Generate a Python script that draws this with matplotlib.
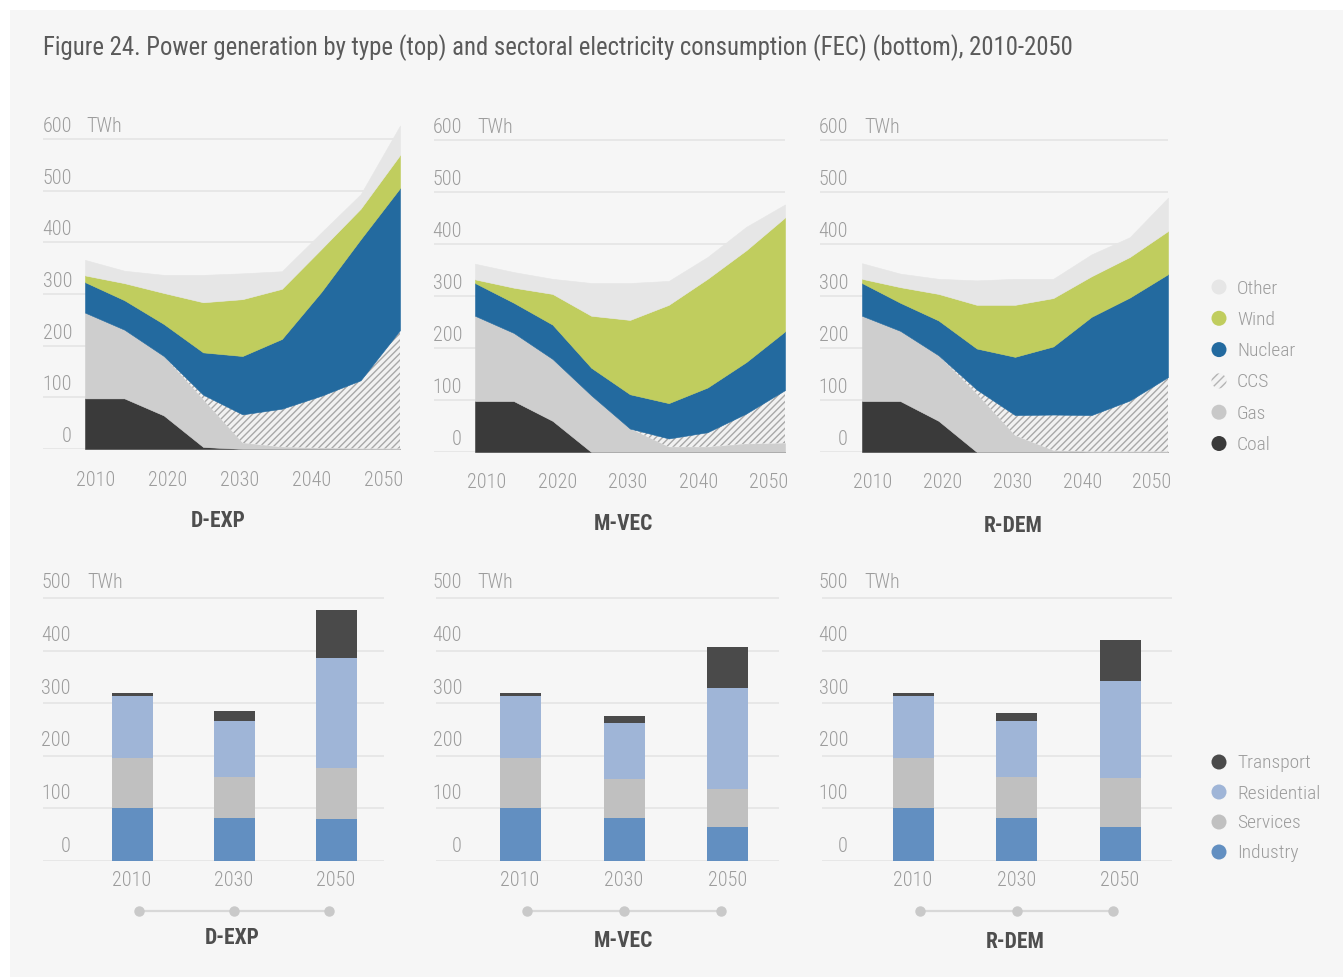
import numpy as np
import matplotlib
matplotlib.use('Agg')
import matplotlib.pyplot as plt
from matplotlib import font_manager as fm
from matplotlib.patches import Rectangle, Circle
import matplotlib.transforms as mtrans

# ---------------- data ----------------
years = [2010, 2015, 2020, 2025, 2030, 2035, 2040, 2045, 2050]
year_labels = ['2010', '2020', '2030', '2040', '2050']
gen_types = ['Coal', 'Gas', 'CCS', 'Nuclear', 'Wind', 'Other']
scenarios = ['D-EXP', 'M-VEC', 'R-DEM']

dexp_coal = [98, 98, 65, 4, 0, 0, 0, 0, 0]
dexp_gas = [166, 133, 115, 92, 12, 4, 2, 1, 1]
dexp_ccs = [0, 0, 0, 9, 55, 74, 101, 132, 229]
dexp_nuclear = [59, 57, 62, 82, 113, 135, 201, 273, 275]
dexp_wind = [13, 33, 60, 97, 110, 97, 83, 59, 64]
dexp_other = [30, 24, 35, 53, 50, 34, 32, 28, 57]

mvec_coal = [98, 98, 60, 0, 0, 0, 0, 0, 0]
mvec_gas = [164, 131, 119, 109, 45, 10, 10, 16, 17]
mvec_ccs = [0, 0, 0, 0, 0, 16, 28, 58, 102]
mvec_nuclear = [63, 58, 66, 53, 66, 68, 86, 99, 113]
mvec_wind = [7, 29, 59, 100, 143, 189, 209, 215, 219]
mvec_other = [30, 30, 29, 63, 71, 46, 42, 45, 25]

rdem_coal = [98, 98, 60, 0, 0, 0, 0, 0, 0]
rdem_gas = [164, 135, 126, 112, 32, 3, 1, 1, 1]
rdem_ccs = [0, 0, 0, 8, 39, 69, 70, 98, 143]
rdem_nuclear = [63, 54, 67, 79, 112, 131, 189, 198, 198]
rdem_wind = [8, 30, 51, 84, 100, 93, 78, 78, 83]
rdem_other = [30, 26, 29, 47, 50, 37, 42, 38, 64]

bar_years = ['2010', '2030', '2050']
sectors = ['Industry', 'Services', 'Residential', 'Transport']

dexp_industry = [101, 82, 80]
dexp_services = [95, 78, 96]
dexp_residential = [118, 106, 210]
dexp_transport = [5, 20, 91]

mvec_industry = [101, 82, 65]
mvec_services = [95, 74, 71]
mvec_residential = [118, 106, 193]
mvec_transport = [5, 14, 78]

rdem_industry = [101, 82, 65]
rdem_services = [95, 77, 92]
rdem_residential = [118, 107, 186]
rdem_transport = [5, 15, 78]

gen_ticks = [0, 100, 200, 300, 400, 500, 600]
fec_ticks = [0, 100, 200, 300, 400, 500]

# ---------------- style ----------------
gen_colors = {'Coal': '#3a3a3a', 'Gas': '#cecece', 'CCS': '#f1f1f1',
              'Nuclear': '#236a9f', 'Wind': '#c0cd5e', 'Other': '#e6e6e6'}
hatch_color = '#a8a8a8'
sec_colors = {'Industry': '#628fc1', 'Services': '#c0c0c0',
              'Residential': '#9fb5d7', 'Transport': '#4a4a4a'}
TICK_C = '#9c9c9c'
GRID_C = '#e5e5e5'
NAME_C = '#4e4e4e'
TITLE_C = '#5a5a5a'

names = {f.name for f in fm.fontManager.ttflist}
FONT = 'DejaVu Sans'
for cand in ['Roboto Condensed', 'Liberation Sans Narrow', 'DejaVu Sans']:
    if cand in names:
        FONT = cand
        break
plt.rcParams['font.family'] = [FONT, 'DejaVu Sans']
plt.rcParams['hatch.color'] = hatch_color
plt.rcParams['hatch.linewidth'] = 1.0

TICK_FS = 14.5
TICK_W = 'light'
LEG_FS = 14
NAME_FS = 15.5

W, H = 1343, 977
fig = plt.figure(figsize=(W / 100, H / 100), dpi=100, facecolor='white')

bg = fig.add_axes([0, 0, 1, 1], zorder=-10)
bg.set_xlim(0, W)
bg.set_ylim(H, 0)
bg.axis('off')
bg.add_patch(Rectangle((10, 10), W, H, color='#f6f6f6', lw=0))


def px_axes(x0, x1, ybot, ytop, z=1):
    ax = fig.add_axes([x0 / W, 1 - ybot / H, (x1 - x0) / W, (ybot - ytop) / H], zorder=z)
    ax.set_facecolor('none')
    for s in ax.spines.values():
        s.set_visible(False)
    ax.tick_params(left=False, bottom=False, labelleft=False, labelbottom=False)
    return ax


title = fig.text(43 / W, 1 - 55 / H,
                 'Figure 24. Power generation by type (top) and sectoral electricity consumption (FEC) (bottom), 2010-2050',
                 ha='left', va='baseline', fontsize=17, color=TITLE_C)
r = fig.canvas.get_renderer()
tw = title.get_window_extent(r).width
title.set_fontsize(17 * 1030 / tw)

# ---------------- top panels ----------------
top_data = [
    (dexp_coal, dexp_gas, dexp_ccs, dexp_nuclear, dexp_wind, dexp_other),
    (mvec_coal, mvec_gas, mvec_ccs, mvec_nuclear, mvec_wind, mvec_other),
    (rdem_coal, rdem_gas, rdem_ccs, rdem_nuclear, rdem_wind, rdem_other),
]
top_specs = [
    dict(gx0=43, gx1=400, dx0=85, dx1=400, y0=449, y600=139, ylab_r=72, twh_l=86,
         xlab_px=[96, 168, 240, 312, 384], xlab_dy=31, name_xy=(218, 521)),
    dict(gx0=434, gx1=785, dx0=475, dx1=785, y0=452, y600=140, ylab_r=462, twh_l=477,
         xlab_px=[487, 558, 628, 699, 769], xlab_dy=30, name_xy=(623, 524)),
    dict(gx0=820, gx1=1168, dx0=862, dx1=1168, y0=452, y600=140, ylab_r=848, twh_l=864,
         xlab_px=[873, 943, 1013, 1083, 1152], xlab_dy=30, name_xy=(1013, 526)),
]
YMAX_TOP = 640
for name, data, sp in zip(scenarios, top_data, top_specs):
    ppv = (sp['y0'] - sp['y600']) / 600.0
    ytop = sp['y0'] - YMAX_TOP * ppv
    ax = px_axes(sp['gx0'], sp['gx1'], sp['y0'], ytop)
    ppy = (sp['dx1'] - sp['dx0']) / (years[-1] - years[0])
    ax.set_xlim(years[0] - (sp['dx0'] - sp['gx0']) / ppy, years[-1] + (sp['gx1'] - sp['dx1']) / ppy)
    ax.set_ylim(0, YMAX_TOP)
    for v in gen_ticks:
        ax.axhline(v, color=GRID_C, lw=1.2, zorder=0)
    polys = ax.stackplot(years, *data, colors=[gen_colors[g] for g in gen_types], zorder=2)
    for g, p in zip(gen_types, polys):
        if g == 'CCS':
            p.set_hatch('/////')
            p.set_edgecolor(hatch_color)
            p.set_linewidth(0)
        else:
            p.set_edgecolor(gen_colors[g])
            p.set_linewidth(0.4)
    xf = (sp['ylab_r'] - sp['gx0']) / (sp['gx1'] - sp['gx0'])
    for v in gen_ticks:
        ax.annotate(str(v), xy=(xf, v), xycoords=('axes fraction', 'data'),
                    xytext=(0, 12.5), textcoords='offset pixels', ha='right', va='center',
                    fontsize=TICK_FS, fontweight=TICK_W, color=TICK_C, annotation_clip=False)
    ax.annotate('TWh', xy=((sp['twh_l'] - sp['gx0']) / (sp['gx1'] - sp['gx0']), gen_ticks[-1]),
                xycoords=('axes fraction', 'data'), xytext=(0, 12.5), textcoords='offset pixels',
                ha='left', va='center', fontsize=TICK_FS, fontweight=TICK_W, color=TICK_C,
                annotation_clip=False)
    for lab, px in zip(year_labels, sp['xlab_px']):
        xpos = years[0] + (px - sp['dx0']) / ppy
        ax.annotate(lab, xy=(xpos, 0), xycoords='data', xytext=(0, -sp['xlab_dy']),
                    textcoords='offset pixels', ha='center', va='center',
                    fontsize=TICK_FS, fontweight=TICK_W, color=TICK_C, annotation_clip=False)
    fig.text(sp['name_xy'][0] / W, 1 - sp['name_xy'][1] / H, name, ha='center', va='center',
             fontsize=NAME_FS, fontweight='bold', color=NAME_C)

# ---------------- bottom panels ----------------
bot_data = [
    (dexp_industry, dexp_services, dexp_residential, dexp_transport),
    (mvec_industry, mvec_services, mvec_residential, mvec_transport),
    (rdem_industry, rdem_services, rdem_residential, rdem_transport),
]
bot_specs = [
    dict(gx0=43, gx1=384, c0=132, c2=336, ylab_r=71, twh_l=87, name_xy=(232, 938)),
    dict(gx0=436, gx1=779, c0=520, c2=728, ylab_r=462, twh_l=477, name_xy=(623, 941)),
    dict(gx0=822, gx1=1172, c0=913, c2=1120, ylab_r=848, twh_l=864, name_xy=(1015, 942)),
]
Y0B, Y500B = 861, 598
YMAX_BOT = 520
BAR_PX = 41
for name, data, sp in zip(scenarios, bot_data, bot_specs):
    ppv = (Y0B - Y500B) / 500.0
    ytop = Y0B - YMAX_BOT * ppv
    ax = px_axes(sp['gx0'], sp['gx1'], Y0B, ytop)
    ppu = (sp['c2'] - sp['c0']) / 2.0
    ax.set_xlim(-(sp['c0'] - sp['gx0']) / ppu, 2 + (sp['gx1'] - sp['c2']) / ppu)
    ax.set_ylim(0, YMAX_BOT)
    for v in fec_ticks:
        ax.axhline(v, color=GRID_C, lw=1.2, zorder=0)
    x = np.arange(len(bar_years))
    bottom = np.zeros(len(bar_years))
    for sec, vals in zip(sectors, data):
        ax.bar(x, vals, width=BAR_PX / ppu, bottom=bottom, color=sec_colors[sec], lw=0, zorder=2)
        bottom = bottom + np.array(vals)
    xf = (sp['ylab_r'] - sp['gx0']) / (sp['gx1'] - sp['gx0'])
    for v in fec_ticks:
        ax.annotate(str(v), xy=(xf, v), xycoords=('axes fraction', 'data'),
                    xytext=(0, 15), textcoords='offset pixels', ha='right', va='center',
                    fontsize=TICK_FS, fontweight=TICK_W, color=TICK_C, annotation_clip=False)
    ax.annotate('TWh', xy=((sp['twh_l'] - sp['gx0']) / (sp['gx1'] - sp['gx0']), fec_ticks[-1]),
                xycoords=('axes fraction', 'data'), xytext=(0, 15), textcoords='offset pixels',
                ha='left', va='center', fontsize=TICK_FS, fontweight=TICK_W, color=TICK_C,
                annotation_clip=False)
    for xi, lab in zip(x, bar_years):
        ax.annotate(lab, xy=(xi, 0), xycoords='data', xytext=(0, -20),
                    textcoords='offset pixels', ha='center', va='center',
                    fontsize=TICK_FS, fontweight=TICK_W, color=TICK_C, annotation_clip=False)
    # timeline dots
    tr = mtrans.blended_transform_factory(ax.transData, ax.transAxes)
    dot_y = -(911 - Y0B) / (Y0B - ytop)
    dx = 1 + (x - 1) * 0.93
    ax.plot(dx, [dot_y] * len(dx), transform=tr, color='#d8d8d8', lw=1.6, clip_on=False, zorder=1)
    ax.plot(dx, [dot_y] * len(dx), transform=tr, ls='none', marker='o', ms=6.5,
            color='#c9c9c9', clip_on=False, zorder=2)
    fig.text(sp['name_xy'][0] / W, 1 - sp['name_xy'][1] / H, name, ha='center', va='center',
             fontsize=NAME_FS, fontweight='bold', color=NAME_C)

# ---------------- legends ----------------
lg = fig.add_axes([0, 0, 1, 1], zorder=5)
lg.set_xlim(0, W)
lg.set_ylim(H, 0)
lg.axis('off')
lg.patch.set_alpha(0)

top_leg = ['Other', 'Wind', 'Nuclear', 'CCS', 'Gas', 'Coal']
for i, g in enumerate(top_leg):
    y = 287 + 31.3 * i
    if g == 'CCS':
        c = Circle((1219, y), 7.5, facecolor='#f3f3f3', edgecolor='#b4b4b4', hatch='////', lw=0)
        lg.add_patch(c)
    else:
        col = gen_colors[g] if g != 'Gas' else '#c8c8c8'
        lg.add_patch(Circle((1219, y), 7.5, facecolor=col, lw=0))
    lg.text(1237, y + 1.5, g, ha='left', va='center', fontsize=LEG_FS, fontweight=TICK_W, color=TICK_C)

bot_leg = ['Transport', 'Residential', 'Services', 'Industry']
for i, s in enumerate(bot_leg):
    y = 762 + 30 * i
    lg.add_patch(Circle((1219, y), 7.5, facecolor=sec_colors[s], lw=0))
    lg.text(1237, y + 1.5, s, ha='left', va='center', fontsize=LEG_FS, fontweight=TICK_W, color=TICK_C)

fig.savefig('out.png', dpi=100, facecolor='white')
